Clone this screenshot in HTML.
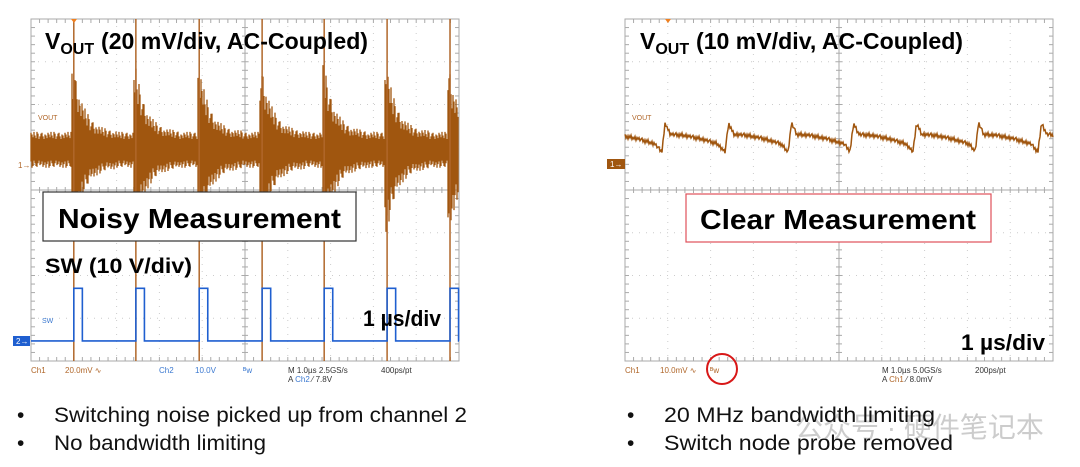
<!DOCTYPE html>
<html><head><meta charset="utf-8"><style>
html,body{margin:0;padding:0;background:#fff;width:1080px;height:467px;overflow:hidden}
svg{display:block}
.lab{font-family:"Liberation Sans",Arial,sans-serif;font-weight:bold;fill:#000}
.st{font-family:"Liberation Sans",Arial,sans-serif;font-size:8px}
.bul{font-family:"Liberation Sans",Arial,sans-serif;font-size:21px;fill:#111}
</style></head><body>
<svg id="s" width="1080" height="467">
<g id="left"></g>
<g id="right"></g>
<g>
<text class="lab" x="45" y="49" font-size="23">V<tspan font-size="16" dy="5">OUT</tspan></text>
<text class="lab" x="101" y="49" font-size="23" textLength="267" lengthAdjust="spacingAndGlyphs">(20 mV/div, AC-Coupled)</text>
<rect x="43" y="192" width="313" height="49" fill="#fff" stroke="#333" stroke-width="1.2"/>
<text class="lab" x="58" y="228" font-size="28" textLength="283" lengthAdjust="spacingAndGlyphs">Noisy Measurement</text>
<text class="lab" x="45" y="273" font-size="21" textLength="147" lengthAdjust="spacingAndGlyphs">SW (10 V/div)</text>
<text class="lab" x="363" y="326" font-size="22" textLength="78" lengthAdjust="spacingAndGlyphs">1 µs/div</text>
<text class="lab" x="640" y="49" font-size="23">V<tspan font-size="16" dy="5">OUT</tspan></text>
<text class="lab" x="696" y="49" font-size="23" textLength="267" lengthAdjust="spacingAndGlyphs">(10 mV/div, AC-Coupled)</text>
<rect x="686" y="194" width="305" height="48" fill="#fff" stroke="#e0505a" stroke-width="1.2"/>
<text class="lab" x="700" y="229" font-size="28" textLength="276" lengthAdjust="spacingAndGlyphs">Clear Measurement</text>
<text class="lab" x="961" y="350" font-size="22" textLength="84" lengthAdjust="spacingAndGlyphs">1 µs/div</text>
<circle cx="722" cy="369" r="15" fill="none" stroke="#d81818" stroke-width="2"/>
</g>
<g>
<text class="st" x="31" y="373" fill="#b0672a">Ch1</text><text class="st" x="65" y="373" fill="#b0672a">20.0mV ∿</text>
<text class="st" x="159" y="373" fill="#3a78d0">Ch2</text><text class="st" x="195" y="373" fill="#3a78d0">10.0V</text>
<text class="st" x="243" y="373" fill="#3a78d0">ᴮw</text>
<text class="st" x="288" y="373" fill="#333">M 1.0µs 2.5GS/s</text><text class="st" x="381" y="373" fill="#333">400ps/pt</text>
<text class="st" x="288" y="382" fill="#333">A <tspan fill="#3a78d0">Ch2</tspan> ⁄ 7.8V</text>
<text class="st" x="625" y="373" fill="#b0672a">Ch1</text><text class="st" x="660" y="373" fill="#b0672a">10.0mV ∿</text>
<text class="st" x="710" y="373" fill="#b0672a">ᴮw</text>
<text class="st" x="882" y="373" fill="#333">M 1.0µs 5.0GS/s</text><text class="st" x="975" y="373" fill="#333">200ps/pt</text>
<text class="st" x="882" y="382" fill="#333">A <tspan fill="#b0672a">Ch1</tspan> ⁄ 8.0mV</text>
</g>
<g>
<text x="795" y="437" font-size="28" fill="#bbb" opacity="0.75" font-family="'Liberation Sans','Noto Sans CJK SC',sans-serif">公众号 · 硬件笔记本</text>
<text class="bul" x="17" y="422">•</text>
<text class="bul" x="54" y="422" textLength="413" lengthAdjust="spacingAndGlyphs">Switching noise picked up from channel 2</text>
<text class="bul" x="17" y="450">•</text>
<text class="bul" x="54" y="450" textLength="212" lengthAdjust="spacingAndGlyphs">No bandwidth limiting</text>
<text class="bul" x="627" y="422">•</text>
<text class="bul" x="664" y="422" textLength="271" lengthAdjust="spacingAndGlyphs">20 MHz bandwidth limiting</text>
<text class="bul" x="627" y="450">•</text>
<text class="bul" x="664" y="450" textLength="289" lengthAdjust="spacingAndGlyphs">Switch node probe removed</text>
</g>
</svg>
<script>
// data (time in divisions 0..10, volts in divisions from center, +up)
const leftSpikeTimes = [1.0, 2.45, 3.93, 5.4, 6.85, 8.32, 9.79];
const leftVoutLevel = 0.94;
const leftNoiseAmp = 0.42;
const leftSpikeAmp = [2.6, 2.5, 2.6, 2.5, 2.6, 2.5, 2.4];
const swLow = -3.53, swHigh = -2.3, swPulseWidth = 0.2;
const noisePattern = [0.9,-0.7,0.4,-1,0.6,-0.3,1,-0.8,0.2,-0.5,0.8,-0.9,0.5,-0.2,0.7,-0.6,0.3];
const rightDropTimes = [0.86, 2.34, 3.81, 5.26, 6.73, 8.18, 9.65];
const rightProfilePhase = [0, 0.08, 0.2, 0.5, 0.9, 1.3, 1.47];
const rightProfileValue = [0.89, 1.57, 1.3, 1.28, 1.2, 1.08, 0.89];
const rightNoise = 0.05;

const NS='http://www.w3.org/2000/svg';
function mk(p,t,a){const e=document.createElementNS(NS,t);for(const k in a)e.setAttribute(k,a[k]);p.appendChild(e);return e;}
function scope(g,x0){
  const W=428,H=342,y0=19;
  const sx=t=>x0+t*W/10, sy=v=>y0+H/2-v*H/8;
  mk(g,'rect',{x:x0,y:y0,width:W,height:H,fill:'#fff',stroke:'#aaa','stroke-width':1});
  for(let i=1;i<10;i++){mk(g,'line',{x1:sx(i),x2:sx(i),y1:y0,y2:y0+H,stroke:'#ccc','stroke-dasharray':'1 6'});}
  for(let i=1;i<8;i++){mk(g,'line',{x1:x0,x2:x0+W,y1:y0+i*H/8,y2:y0+i*H/8,stroke:'#ccc','stroke-dasharray':'1 6'});}
  mk(g,'line',{x1:sx(5),x2:sx(5),y1:y0,y2:y0+H,stroke:'#aaa'});
  mk(g,'line',{x1:x0,x2:x0+W,y1:sy(0),y2:sy(0),stroke:'#aaa'});
  for(let i=0;i<=50;i++){const x=sx(i/5);mk(g,'line',{x1:x,x2:x,y1:sy(0)-3,y2:sy(0)+3,stroke:'#aaa'});mk(g,'line',{x1:x,x2:x,y1:y0,y2:y0+4,stroke:'#aaa'});mk(g,'line',{x1:x,x2:x,y1:y0+H-4,y2:y0+H,stroke:'#aaa'});}
  for(let i=0;i<=40;i++){const y=y0+i*H/40;mk(g,'line',{x1:sx(5)-3,x2:sx(5)+3,y1:y,y2:y,stroke:'#aaa'});mk(g,'line',{x1:x0,x2:x0+4,y1:y,y2:y,stroke:'#aaa'});mk(g,'line',{x1:x0+W-4,x2:x0+W,y1:y,y2:y,stroke:'#aaa'});}
  return {sx,sy};
}
// left
const L=document.getElementById('left');
const a=scope(L,31);
let d='';
for(let px=0;px<428;px++){
  const t=px*10/428;
  let env=leftNoiseAmp;
  leftSpikeTimes.forEach((st,i)=>{const dt=t-st;if(dt>=-0.05&&dt<1.0)env+=leftSpikeAmp[i]*Math.exp(-Math.max(dt,0)*4)*0.6;});
  const n=noisePattern[px%noisePattern.length];
  const y1=a.sy(leftVoutLevel+env*(0.5+0.5*Math.abs(n))), y2=a.sy(leftVoutLevel-env*(0.5+0.5*Math.abs(noisePattern[(px+5)%noisePattern.length])));
  d+=`M${a.sx(t)} ${y1}V${y2}`;
}
const vl=mk(L,'path',{d,stroke:'#a0560f','stroke-width':1.3,fill:'none'});


leftSpikeTimes.forEach(st=>{
  const sp=mk(L,'line',{x1:a.sx(st),x2:a.sx(st),y1:19,y2:361,stroke:'#b0672a','stroke-width':1.5});
  
  
});
let sw='M'+a.sx(0)+' '+a.sy(swLow);
leftSpikeTimes.forEach(st=>{sw+=`H${a.sx(st)}V${a.sy(swHigh)}H${a.sx(Math.min(st+swPulseWidth,10))}V${a.sy(swLow)}`;});
sw+='H'+a.sx(10);
const swp=mk(L,'path',{d:sw,stroke:'#1f5fd0','stroke-width':1.6,fill:'none'});


mk(L,'text',{x:38,y:120,'font-size':7,fill:'#b0672a','font-family':'Liberation Sans'}).textContent='VOUT';
mk(L,'text',{x:42,y:323,'font-size':7,fill:'#3a78d0','font-family':'Liberation Sans'}).textContent='SW';
mk(L,'text',{x:18,y:168,'font-size':8,fill:'#b0672a','font-family':'Liberation Sans'}).textContent='1→';
mk(L,'rect',{x:13,y:336,width:17,height:10,fill:'#1f5fd0'});
mk(L,'text',{x:16,y:344,'font-size':8,fill:'#fff','font-family':'Liberation Sans'}).textContent='2→';
mk(L,'path',{d:'M71 19 L77 19 L74 23Z',fill:'#f08020'});
// right
const R=document.getElementById('right');
const b=scope(R,625);
let rd='';
for(let px=0;px<=428;px++){
  const t=px*10/428;
  let prev=null;
  for(const st of rightDropTimes){ if(t>=st) prev=st; }
  let ph = prev===null ? t-rightDropTimes[0]+1.47 : t-prev;
  if(ph<0)ph=0; if(ph>1.47)ph=1.47;
  let v=rightProfileValue[rightProfileValue.length-1];
  for(let i=0;i<rightProfilePhase.length-1;i++){if(ph>=rightProfilePhase[i]&&ph<=rightProfilePhase[i+1]){const f=(ph-rightProfilePhase[i])/(rightProfilePhase[i+1]-rightProfilePhase[i]);v=rightProfileValue[i]+f*(rightProfileValue[i+1]-rightProfileValue[i]);break;}}
  v+=rightNoise*noisePattern[px%noisePattern.length];
  rd+=(px?'L':'M')+b.sx(t)+' '+b.sy(v);
}
const rp=mk(R,'path',{d:rd,stroke:'#a0560f','stroke-width':1.5,fill:'none'});


mk(R,'text',{x:632,y:120,'font-size':7,fill:'#b0672a','font-family':'Liberation Sans'}).textContent='VOUT';
mk(R,'rect',{x:607,y:159,width:18,height:10,fill:'#a0560f'});
mk(R,'text',{x:610,y:167,'font-size':8,fill:'#fff','font-family':'Liberation Sans'}).textContent='1→';
mk(R,'path',{d:'M665 19 L671 19 L668 23Z',fill:'#f08020'});
</script>
</body></html>
